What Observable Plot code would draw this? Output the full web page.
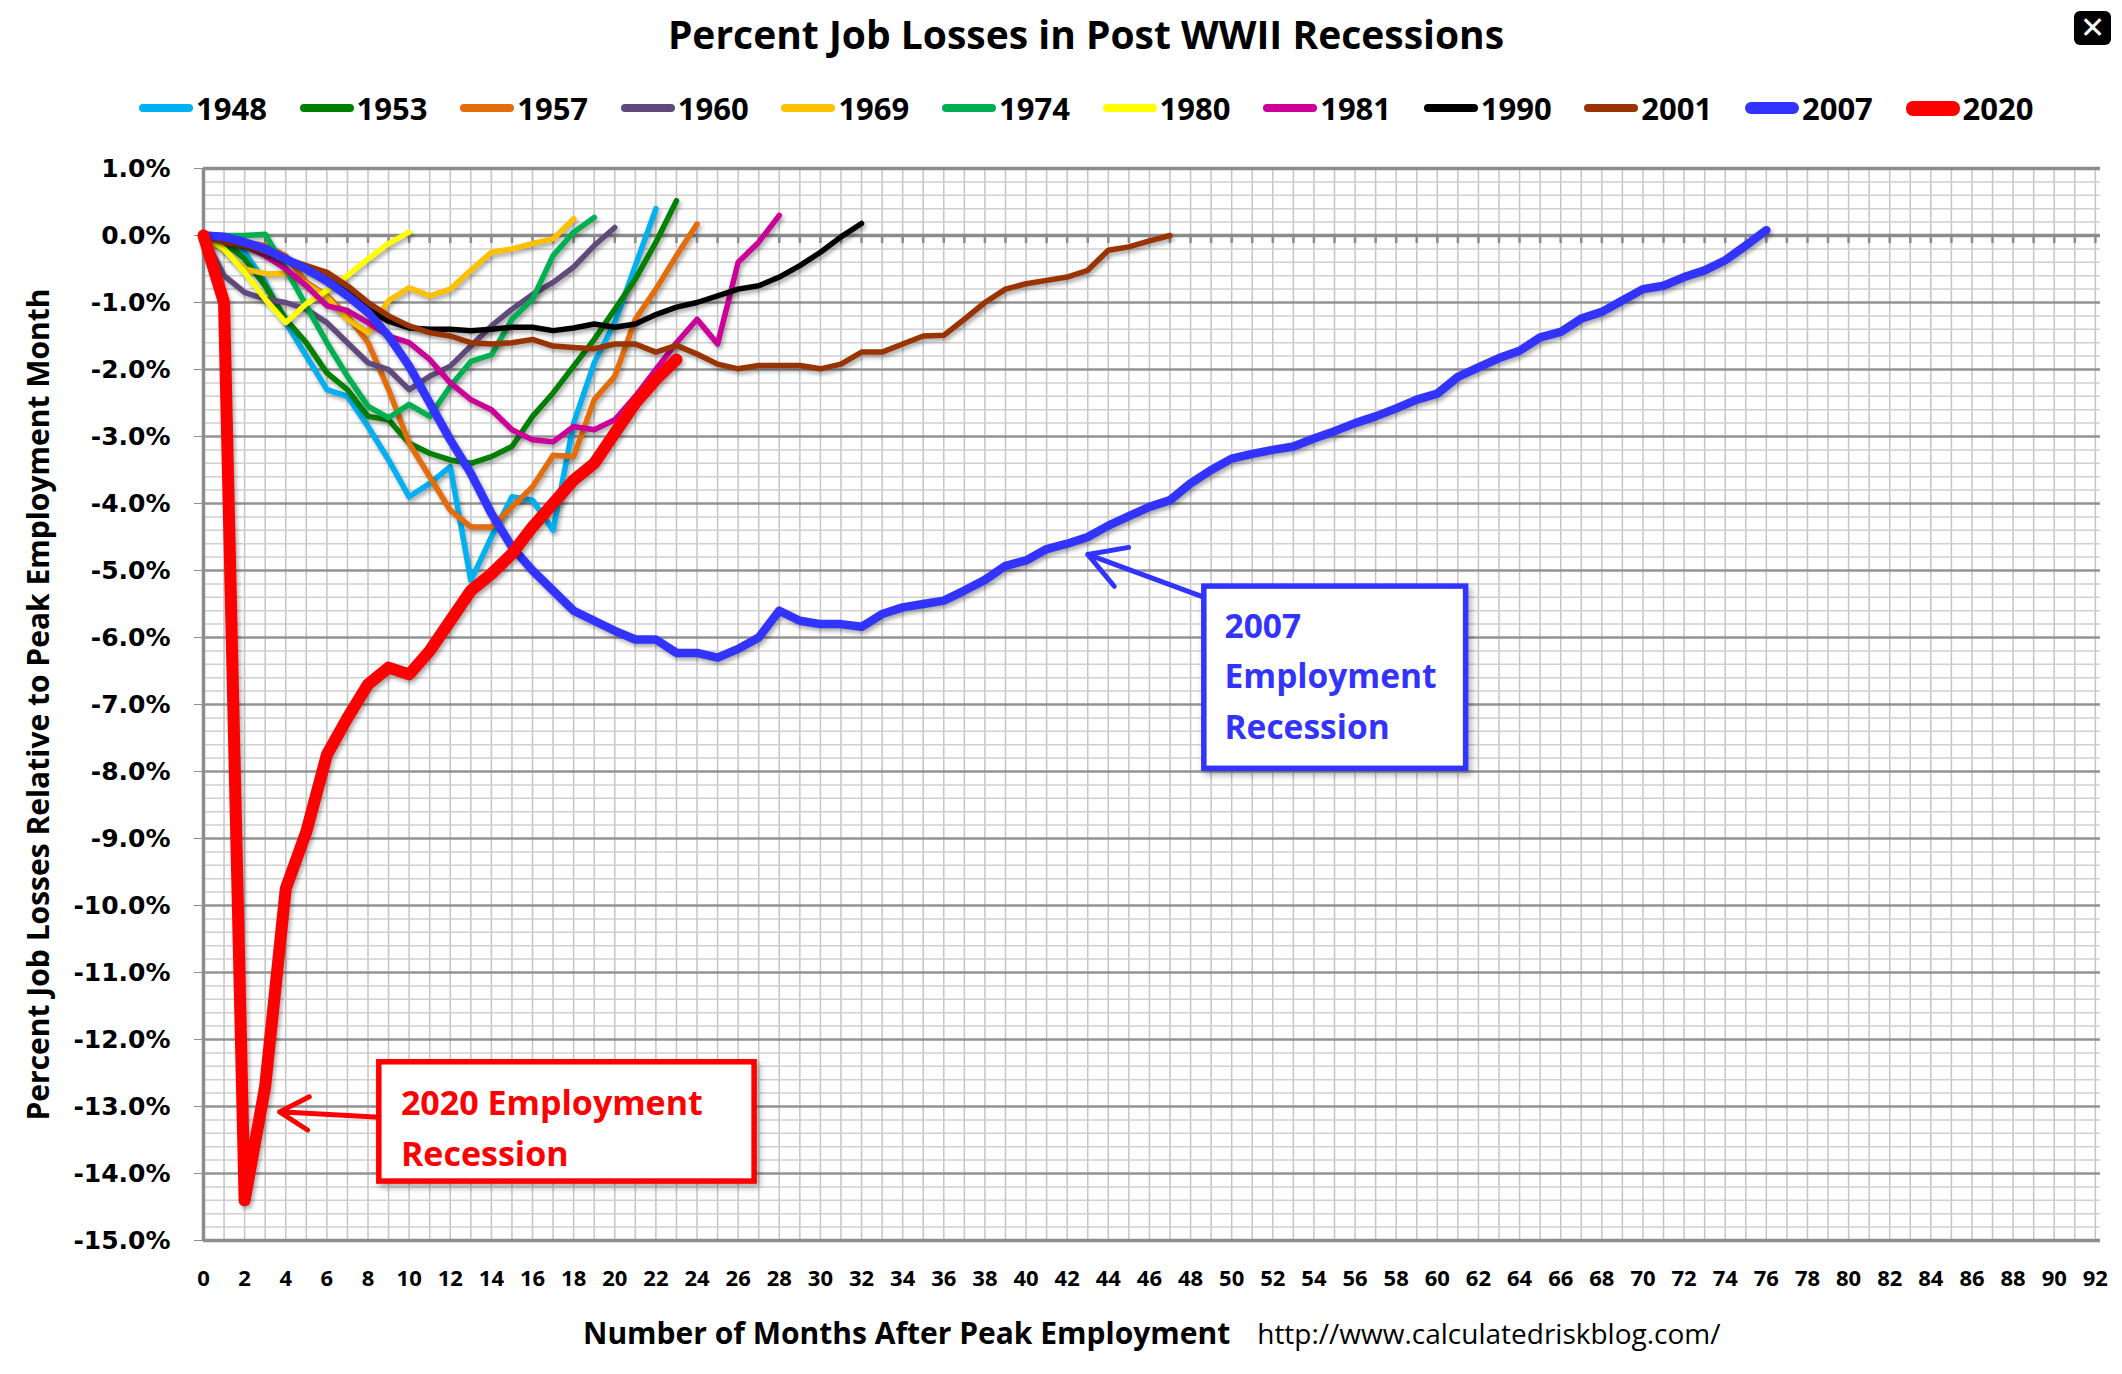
<!DOCTYPE html>
<html><head><meta charset="utf-8">
<script src="https://cdn.jsdelivr.net/npm/d3@7"></script>
<script src="https://cdn.jsdelivr.net/npm/@observablehq/plot@0.6"></script>
<style>
html,body{margin:0;padding:0;background:#fff;}
body{width:2122px;height:1374px;overflow:hidden;position:relative;font-family:"Open Sans",sans-serif;color:#000;}
#title{height:68px;line-height:68px;text-align:center;padding-left:50px;font-weight:700;font-size:39px;white-space:nowrap;}
#legend{height:80px;display:flex;align-items:center;padding-left:139px;}
.item{width:160.6px;display:flex;align-items:center;flex:none;}
.sw{width:54px;border-radius:7px;margin-right:3px;flex:none;}
.lab{font-weight:700;font-size:31px;line-height:40px;}
#footer{height:72px;line-height:62px;padding-left:583px;white-space:nowrap;}
#footer .xt{font-weight:700;font-size:30px;}
#footer .url{font-size:28px;margin-left:27px;}
#close{position:absolute;left:2074px;top:11px;width:37px;height:34px;background:#000;border-radius:6px;color:#fff;font:bold 30px "DejaVu Sans";text-align:center;line-height:34px;}
#chart svg{display:block;}
#chart [aria-label="y-axis tick label"]{font-family:"DejaVu Sans",sans-serif;font-weight:bold;font-size:25px;}
#chart [aria-label="x-axis tick label"]{font-family:"Open Sans",sans-serif;font-weight:bold;font-size:22px;}
#chart [aria-label="y-axis label"]{font-family:"Open Sans",sans-serif;font-weight:bold;font-size:30px;}
#chart g[aria-label="line"] path{filter:drop-shadow(2px 3px 2px rgba(0,0,0,0.33));}
#chart g[aria-label="rect"] rect{filter:drop-shadow(3px 4px 3px rgba(0,0,0,0.3));}
</style>
</head><body>
<div id="title">Percent Job Losses in Post WWII Recessions</div>
<div id="close">✕</div>
<div id="legend"></div>
<div id="chart"></div>
<div id="footer"><span class="xt">Number of Months After Peak Employment</span><span class="url">http://www.calculatedriskblog.com/</span></div>
<script>
// ---- data (percent change in employment vs. peak month, by months after peak) ----
const years = ["1948","1953","1957","1960","1969","1974","1980","1981","1990","2001","2007","2020"];
const s1948 = [0,-0.1,-0.25,-0.7,-1.3,-1.8,-2.3,-2.4,-2.85,-3.35,-3.9,-3.7,-3.45,-5.15,-4.5,-3.9,-3.95,-4.4,-2.8,-1.9,-1.3,-0.45,0.4];
const s1953 = [0,-0.1,-0.35,-0.75,-1.25,-1.6,-2.05,-2.3,-2.7,-2.75,-3.1,-3.25,-3.35,-3.4,-3.3,-3.15,-2.7,-2.35,-1.95,-1.55,-1.1,-0.65,-0.1,0.52];
const s1957 = [0,-0.05,-0.1,-0.15,-0.3,-0.7,-0.9,-1.2,-1.6,-2.3,-3.1,-3.6,-4.1,-4.35,-4.35,-4.05,-3.75,-3.28,-3.3,-2.45,-2.1,-1.25,-0.8,-0.3,0.17];
const s1960 = [0,-0.6,-0.85,-0.95,-1.0,-1.1,-1.3,-1.6,-1.9,-2.0,-2.3,-2.1,-1.95,-1.65,-1.35,-1.1,-0.88,-0.7,-0.47,-0.15,0.12];
const s1969 = [0,-0.22,-0.5,-0.57,-0.57,-0.72,-0.92,-1.25,-1.45,-0.97,-0.78,-0.9,-0.8,-0.52,-0.25,-0.2,-0.12,-0.05,0.25];
const s1974 = [0,0,0,0.02,-0.5,-1.05,-1.6,-2.1,-2.55,-2.72,-2.52,-2.7,-2.25,-1.88,-1.78,-1.25,-0.95,-0.3,0.05,0.27];
const s1980 = [0,-0.2,-0.55,-0.95,-1.3,-1.02,-0.82,-0.6,-0.35,-0.12,0.05];
const s1981 = [0,-0.05,-0.15,-0.3,-0.5,-0.75,-1.05,-1.12,-1.3,-1.5,-1.6,-1.85,-2.2,-2.45,-2.6,-2.9,-3.05,-3.08,-2.85,-2.9,-2.75,-2.4,-2.0,-1.6,-1.25,-1.62,-0.4,-0.1,0.3];
const s1990 = [0,-0.05,-0.15,-0.25,-0.35,-0.5,-0.65,-0.85,-1.1,-1.28,-1.38,-1.4,-1.4,-1.42,-1.4,-1.37,-1.37,-1.42,-1.38,-1.32,-1.37,-1.32,-1.18,-1.07,-1.0,-0.9,-0.8,-0.75,-0.62,-0.45,-0.25,-0.02,0.18];
const s2001 = [0,-0.1,-0.15,-0.25,-0.35,-0.45,-0.55,-0.75,-1.0,-1.2,-1.35,-1.45,-1.5,-1.6,-1.62,-1.6,-1.55,-1.65,-1.67,-1.69,-1.62,-1.62,-1.74,-1.64,-1.77,-1.92,-1.99,-1.94,-1.94,-1.94,-1.99,-1.92,-1.74,-1.74,-1.62,-1.5,-1.49,-1.25,-1.0,-0.8,-0.72,-0.67,-0.62,-0.52,-0.22,-0.17,-0.08,0.0];
const s2007 = [0,-0.02,-0.1,-0.2,-0.35,-0.5,-0.68,-0.9,-1.15,-1.5,-1.95,-2.5,-3.05,-3.55,-4.15,-4.65,-5.0,-5.3,-5.6,-5.75,-5.9,-6.03,-6.03,-6.23,-6.23,-6.3,-6.17,-6.0,-5.6,-5.75,-5.8,-5.8,-5.84,-5.65,-5.55,-5.5,-5.45,-5.3,-5.14,-4.93,-4.85,-4.68,-4.6,-4.5,-4.33,-4.19,-4.05,-3.95,-3.7,-3.5,-3.33,-3.26,-3.2,-3.15,-3.03,-2.92,-2.8,-2.7,-2.58,-2.45,-2.36,-2.11,-1.97,-1.83,-1.72,-1.52,-1.44,-1.24,-1.14,-0.97,-0.8,-0.75,-0.62,-0.52,-0.37,-0.15,0.08];
const s2020 = [0,-1.0,-14.4,-12.7,-9.75,-8.9,-7.75,-7.2,-6.7,-6.45,-6.55,-6.2,-5.75,-5.3,-5.05,-4.75,-4.35,-4.0,-3.65,-3.4,-2.95,-2.5,-2.15,-1.85];
const seriesValues = [s1948,s1953,s1957,s1960,s1969,s1974,s1980,s1981,s1990,s2001,s2007,s2020];

const xTicks = d3.range(0, 93, 2);
const monthGrid = d3.range(0, 93);
const yTicks = d3.range(-15, 2, 1);
const yMinor = d3.range(0, 81).map(i => -15 + i * 0.2).filter(v => Math.abs(v - Math.round(v)) > 1e-6);
const yTitle = "Percent Job Losses Relative to Peak Employment Month";

// annotations (anchored in data space: month, percent)
const notes = [
  {label: "2020 Employment\nRecession", color: "#ff0000", x1: 8.55, x2: 26.8, y1: -12.34, y2: -14.12, tx: 9.6, ty: -13.27, ax1: 8.55, ay1: -13.16, ax2: 3.7, ay2: -13.08, size: 34},
  {label: "2007\nEmployment\nRecession", color: "#3333ff", x1: 48.67, x2: 61.4, y1: -5.24, y2: -7.96, tx: 49.65, ty: -6.52, ax1: 48.67, ay1: -5.4, ax2: 43.0, ay2: -4.76, size: 33.5}
];

// ---- styles ----
const colors = ["#00b0f0","#008000","#e46c0a","#604a7b","#ffc000","#00b050","#ffff00","#cc0099","#000000","#993300","#3333ff","#ff0000"];
const widths = [5.5,5.5,5.5,5.5,5.5,5.5,5.5,5.5,5.5,5.5,8.5,12];

// legend
const legend = document.getElementById("legend");
years.forEach((yr, k) => {
  const it = document.createElement("div"); it.className = "item";
  const sw = document.createElement("span"); sw.className = "sw";
  sw.style.background = colors[k]; sw.style.height = (widths[k] + 3) + "px";
  const lb = document.createElement("span"); lb.className = "lab"; lb.textContent = yr;
  it.appendChild(sw); it.appendChild(lb); legend.appendChild(it);
});

const lineMarks = years.map((yr, k) => Plot.line(seriesValues[k].map((v, i) => ({m: i, v})), {
  x: "m", y: "v", stroke: colors[k], strokeWidth: widths[k], strokeLinejoin: "round", strokeLinecap: "round"
}));

const chart = Plot.plot({
  width: 2122, height: 1154,
  marginLeft: 203, marginRight: 22, marginTop: 20, marginBottom: 62,
  x: {domain: [0, 92.25]},
  y: {domain: [-15, 1]},
  style: {background: "white", overflow: "visible"},
  marks: [
    Plot.gridX(monthGrid, {stroke: "#c4c4c4", strokeOpacity: 1, strokeWidth: 1.5}),
    Plot.gridY(yMinor, {stroke: "#cfcfcf", strokeOpacity: 1, strokeWidth: 1.5}),
    Plot.gridY(yTicks, {stroke: "#939393", strokeOpacity: 1, strokeWidth: 2.5}),
    Plot.ruleY([1, -15], {stroke: "#8c8c8c", strokeWidth: 3.5}),
    Plot.ruleY([0], {stroke: "#8c8c8c", strokeWidth: 3.5}),
    Plot.ruleX(monthGrid, {x: d => d, y1: 0, y2: -0.12, stroke: "#8c8c8c", strokeWidth: 2.5}),
    Plot.ruleX([0], {stroke: "#8c8c8c", strokeWidth: 3.5}),
    Plot.axisX(xTicks, {tickSize: 0, tickPadding: 30, label: null, fill: "black"}),
    Plot.axisY(yTicks, {tickSize: 9, tickPadding: 24, label: null, stroke: "#8c8c8c", fill: "black", tickFormat: d => d.toFixed(1) + "%"}),
    Plot.axisY([], {label: yTitle, labelAnchor: "center", labelArrow: "none", labelOffset: 176, tickSize: 0, fill: "black"}),
    ...lineMarks,
    Plot.arrow(notes, {x1: "ax1", y1: "ay1", x2: "ax2", y2: "ay2", stroke: "color", strokeWidth: 5, headLength: 30, headAngle: 60}),
    Plot.rect(notes, {x1: "x1", x2: "x2", y1: "y1", y2: "y2", fill: "white", stroke: "color", strokeWidth: 5.5}),
    Plot.text(notes, {x: "tx", y: "ty", text: "label", fill: "color", fontSize: d => d.size, fontWeight: "bold", fontFamily: "Open Sans", textAnchor: "start", lineAnchor: "middle", lineHeight: 1.5})
  ]
});
document.getElementById("chart").appendChild(chart);
</script>
</body></html>
